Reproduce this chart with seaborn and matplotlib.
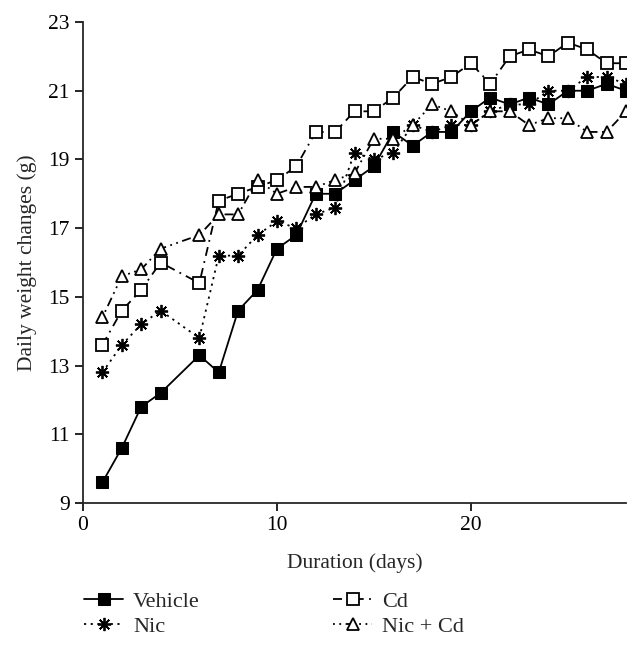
import matplotlib
matplotlib.use('Agg')
import matplotlib.pyplot as plt
import seaborn as sns
import pandas as pd

# 数据
days = [1, 2, 3, 4, 6, 7, 8, 9, 10, 11, 12, 13, 14, 15, 16, 17, 18, 19, 20,
        21, 22, 23, 24, 25, 26, 27, 28]
vehicle = [9.6, 10.6, 11.8, 12.2, 13.3, 12.8, 14.6, 15.2, 16.4, 16.8, 18.0, 18.0, 18.4, 18.8,
           19.8, 19.4, 19.8, 19.8, 20.4, 20.8, 20.6, 20.8, 20.6, 21.0, 21.0, 21.2, 21.0]
nic = [12.8, 13.6, 14.2, 14.6, 13.8, 16.2, 16.2, 16.8, 17.2, 17.0, 17.4, 17.6, 19.2, 19.0,
       19.2, 20.0, 19.8, 20.0, 20.0, 20.4, 20.6, 20.6, 21.0, 21.0, 21.4, 21.4, 21.2]
cd = [13.6, 14.6, 15.2, 16.0, 15.4, 17.8, 18.0, 18.2, 18.4, 18.8, 19.8, 19.8, 20.4, 20.4,
      20.8, 21.4, 21.2, 21.4, 21.8, 21.2, 22.0, 22.2, 22.0, 22.4, 22.2, 21.8, 21.8]
nic_cd = [14.4, 15.6, 15.8, 16.4, 16.8, 17.4, 17.4, 18.4, 18.0, 18.2, 18.2, 18.4, 18.6, 19.6,
          19.6, 20.0, 20.6, 20.4, 20.0, 20.4, 20.4, 20.0, 20.2, 20.2, 19.8, 19.8, 20.4]
groups = ['Vehicle', 'Nic', 'Cd', 'Nic + Cd']
y_ticks = [9, 11, 13, 15, 17, 19, 21, 23]
x_ticks = [0, 10, 20]

sns.set_style('ticks')
plt.rcParams['font.family'] = ['Liberation Serif', 'DejaVu Serif']
plt.rcParams['font.size'] = 15

df = pd.DataFrame({'day': days, 'Vehicle': vehicle, 'Nic': nic, 'Cd': cd, 'Nic + Cd': nic_cd})

# 每组的线型和标记
styles = {
    'Vehicle': dict(linestyle='-', marker='s', markerfacecolor='black', markersize=8.5),
    'Nic': dict(linestyle=(0, (1.2, 2.5)), marker=(8, 2, 0), markerfacecolor='black', markersize=9.5, markeredgewidth=1.3),
    'Cd': dict(linestyle=(0, (5, 3, 1, 3)), marker='s', markerfacecolor='white', markersize=8.5, markeredgewidth=1.3),
    'Nic + Cd': dict(linestyle=(0, (1, 2.5, 1, 2.5, 5, 2.5)), marker='^', markerfacecolor='white', markersize=9, markeredgewidth=1.3),
}

fig = plt.figure(figsize=(6.42, 6.48), dpi=100)
ax = fig.add_axes([83 / 642, 1 - 503 / 648, (626 - 83) / 642, (503 - 22) / 648])
for g in groups:
    sns.lineplot(data=df, x='day', y=g, ax=ax, color='black', linewidth=1.3,
                 markeredgecolor='black', label=g, **styles[g])

ax.set_xlim(0, 28)
ax.set_ylim(9, 23)
ax.set_xticks(x_ticks)
ax.set_yticks(y_ticks)
ax.tick_params(direction='out', length=6, width=1.2, labelsize=15.5, colors='black')
for s in ['left', 'bottom']:
    ax.spines[s].set_linewidth(1.3)
sns.despine(ax=ax)
ax.set_xlabel('Duration (days)', fontsize=15.5, labelpad=13)
ax.set_ylabel('Daily weight changes (g)', fontsize=15.5, labelpad=8)

ax.get_legend().remove()
handles, labels = ax.get_legend_handles_labels()
fig.legend(handles, labels, ncol=2, loc='upper left', bbox_to_anchor=(0.1, 0.118),
           frameon=False, fontsize=16, handlelength=1.75, columnspacing=6.0,
           labelspacing=0.2, handletextpad=0.45)

fig.savefig('out.png', dpi=100)
